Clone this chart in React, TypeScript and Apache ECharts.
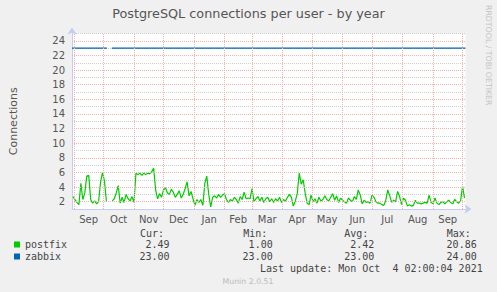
import React, { useEffect, useRef } from "react";
import * as echarts from "echarts";

// ---- data ----
const DAY_MS = 86400000;
const END_TIME = Date.UTC(2021, 9, 4, 2, 0, 4);
const SPAN_DAYS = 400;
const START_TIME = END_TIME - SPAN_DAYS * DAY_MS;

// postfix: one reading every STEP_DAYS days, first at FIRST_DAY
const FIRST_DAY = 1;
const STEP_DAYS = 2;
const postfix: (number | null)[] = [
  2.7, 2.3, 1.9, 1.6, 4.5, 2.3, 3.2, 5.5, 5.6, 2.3,
  1.8, 2.1, 1.7, 2.0, 4.6, 6.0, 4.8, 2.0, null, null,
  2.1, 2.4, 3.2, 4.2, 1.8, 2.6, 1.9, 3.0, 2.4, 2.1,
  2.7, 1.9, 5.9, 5.7, 5.9, 5.6, 5.9, 5.7, 5.9, 5.8,
  6.1, 6.6, 3.6, 2.4, 3.1, 2.6, 3.6, 3.9, 3.2, 3.0,
  3.7, 3.3, 2.6, 3.0, 3.5, 2.5, 3.0, 3.8, 4.7, 2.8,
  3.4, 2.4, 1.5, 2.3, 1.9, 2.3, 1.5, 4.5, 5.5, 3.0,
  1.3, 2.6, 2.8, 2.5, 3.0, 2.6, 2.9, 3.1, 2.3, 1.9,
  2.3, 2.1, 2.6, 2.3, 1.8, 2.7, 2.3, 3.3, 2.4, 2.5,
  2.4, 3.8, 2.0, 2.4, 2.7, 2.1, 2.6, 1.9, 2.4, 2.6,
  2.0, 2.4, 1.9, 2.4, 2.1, 2.6, 1.9, 2.3, 2.1, 2.6,
  3.0, 2.6, 1.4, 2.1, 3.1, 5.9, 4.4, 5.0, 3.2, 1.8,
  1.6, 2.9, 2.0, 2.4, 1.8, 2.6, 2.1, 2.3, 2.8, 2.3,
  2.1, 2.6, 3.1, 2.2, 2.8, 1.9, 2.5, 2.2, 2.0, 1.8,
  2.5, 2.2, 2.0, 2.7, 2.3, 3.6, 2.9, 1.7, 2.2, 1.9,
  2.0, 1.8, 2.9, 2.6, 2.0, 1.8, 1.8, 1.6, 1.5, 2.2,
  3.6, 2.8, 1.9, 2.2, 2.0, 3.4, 2.7, 1.6, 2.5, 2.2,
  1.4, 1.6, 1.4, 1.5, 2.2, 1.8, 1.8, 1.7, 1.8, 1.9,
  1.8, 2.9, 1.9, 1.7, 2.5, 1.8, 1.6, 1.9, 2.0, 1.7,
  2.0, 2.2, 1.9, 1.7, 2.3, 2.0, 1.8, 2.1, 4.1, 2.5,
];

// zabbix: constant with a gap (day offsets / values)
const zabbixDays = [0, 35.5, 36, 40.5, 400];
const zabbixValues: (number | null)[] = [23, 23, null, 23, 23];

const monthStarts = [
  "2020-09-01", "2020-10-01", "2020-11-01", "2020-12-01", "2021-01-01",
  "2021-02-01", "2021-03-01", "2021-04-01", "2021-05-01", "2021-06-01",
  "2021-07-01", "2021-08-01", "2021-09-01", "2021-10-01",
];
const monthLabels = ["Sep", "Oct", "Nov", "Dec", "Jan", "Feb", "Mar", "Apr", "May", "Jun", "Jul", "Aug", "Sep"];

const Y_MIN = 1;
const Y_MAX = 25;
const yMajorTicks = [2, 4, 6, 8, 10, 12, 14, 16, 18, 20, 22, 24];

const statHeaders = ["Cur:", "Min:", "Avg:", "Max:"];
const seriesNames = ["postfix", "zabbix"];
const postfixStats = ["2.49", "1.00", "2.42", "20.86"];
const zabbixStats = ["23.00", "23.00", "23.00", "24.00"];
const lastUpdate = "Last update: Mon Oct  4 02:00:04 2021";
const footer = "Munin 2.0.51";
const watermark = "RRDTOOL / TOBI OETIKER";
const title = "PostgreSQL connections per user - by year";
const yName = "Connections";

// ---- styles ----
const COLORS = ["#00CC00", "#0066B3"];
const AXIS_COLOR = "#C4CCF4";
const MAJOR = "#F4B0B0";
const MINOR = "#CFCFCF";
const TEXT = "#555555";
const LEG = "#444444";
const SANS = "DejaVu Sans";
const MONO = "DejaVu Sans Mono";

function dayOf(s: string) {
  return (Date.parse(s + "T00:00:00Z") - START_TIME) / DAY_MS;
}

export default function App() {
  const ref = useRef<HTMLDivElement>(null);
  useEffect(() => {
    if (!ref.current) return;
    const chart = echarts.init(ref.current, null, { renderer: "svg" });
    const starts = monthStarts.map(dayOf);
    const mids = monthLabels.map((_, i) => (starts[i] + starts[i + 1]) / 2);
    const postfixData = postfix.map((v, i) => [FIRST_DAY + i * STEP_DAYS, v]);
    const zabbixData = zabbixDays.map((d, i) => [d, zabbixValues[i]]);

    const headerX = [140, 243.3, 344.3, 446.7];
    const valueRight = [169.5, 272.7, 374.3, 476.7];
    const graphics: any[] = [];
    statHeaders.forEach((h, i) =>
      graphics.push({
        type: "text", x: headerX[i], y: 233.5,
        style: { text: h, fill: LEG, fontSize: 10, fontFamily: MONO, align: "left", verticalAlign: "middle" },
      })
    );
    [postfixStats, zabbixStats].forEach((row, r) =>
      row.forEach((v, i) =>
        graphics.push({
          type: "text", x: valueRight[i], y: 244.5 + r * 12,
          style: { text: v, fill: LEG, fontSize: 10, fontFamily: MONO, align: "right", verticalAlign: "middle" },
        })
      )
    );
    graphics.push({
      type: "text", x: 482.7, y: 268.5,
      style: { text: lastUpdate, fill: LEG, fontSize: 10, fontFamily: MONO, align: "right", verticalAlign: "middle" },
    });
    graphics.push({
      type: "text", x: 248, y: 281,
      style: { text: footer, fill: "#BBBBBB", fontSize: 7.8, fontFamily: SANS, align: "center", verticalAlign: "middle" },
    });
    graphics.push({
      type: "text", x: 488.5, y: 5, rotation: -Math.PI / 2,
      style: { text: watermark, fill: "#C4C4C4", fontSize: 7.8, fontFamily: SANS, align: "left", verticalAlign: "middle" },
    });

    const gridLineStyle = { color: MAJOR, type: [1, 1], width: 1 };

    chart.setOption({
      animation: false,
      backgroundColor: "#F0F0F0",
      title: {
        text: title, left: "center", top: 2,
        textStyle: { fontSize: 12.8, fontWeight: "normal", color: TEXT, fontFamily: SANS },
      },
      legend: {
        data: seriesNames, orient: "vertical", left: 14, top: 238.5, padding: 0,
        itemWidth: 6, itemHeight: 6, itemGap: 0,
        icon: "rect", selectedMode: false,
        textStyle: { fontSize: 10, fontFamily: MONO, color: LEG, lineHeight: 12 },
      },
      grid: {
        left: 65.5, top: 33.5, width: 400, height: 175.5,
        show: true, backgroundColor: "#FFFFFF", borderWidth: 0, z: -5,
      },
      xAxis: {
        type: "value", min: 0, max: SPAN_DAYS, z: 2,
        axisLine: {
          onZero: false, lineStyle: { color: AXIS_COLOR, width: 1 },
          symbol: ["none", "arrow"], symbolSize: [7, 7], symbolOffset: [0, 6],
        },
        axisTick: { show: false },
        splitLine: { show: false },
        axisLabel: {
          customValues: mids, margin: 5, color: TEXT, fontSize: 10, fontFamily: SANS,
          formatter: (v: number) => {
            let best = 0;
            mids.forEach((m, i) => { if (Math.abs(m - v) < Math.abs(mids[best] - v)) best = i; });
            return monthLabels[best];
          },
        },
      },
      yAxis: {
        type: "value", min: Y_MIN, max: Y_MAX, interval: 1, z: 1,
        name: yName, nameLocation: "middle", nameRotate: 90, nameGap: 53,
        nameTextStyle: { fontSize: 11, color: TEXT, fontFamily: SANS },
        axisLine: {
          show: true, lineStyle: { color: AXIS_COLOR, width: 1 },
          symbol: ["none", "arrow"], symbolSize: [7, 7], symbolOffset: [0, 6],
        },
        axisTick: { show: false },
        axisLabel: {
          margin: 7, color: TEXT, fontSize: 10, fontFamily: SANS,
          formatter: (v: number) => (v % 2 === 0 ? String(v) : ""),
        },
        splitLine: { show: true, lineStyle: { color: MINOR, type: [1, 1], width: 1 } },
      },
      graphic: graphics,
      series: [
        {
          name: "grid", type: "line", data: [], z: 1, silent: true,
          markLine: {
            silent: true, symbol: "none", label: { show: false },
            lineStyle: gridLineStyle,
            data: [
              ...starts.map((d) => ({ xAxis: d })),
              ...yMajorTicks.map((v) => ({ yAxis: v })),
            ],
          },
        },
        {
          name: "postfix", type: "line", data: postfixData, showSymbol: false, connectNulls: false, z: 3,
          lineStyle: { color: COLORS[0], width: 1.2 }, itemStyle: { color: COLORS[0] },
        },
        {
          name: "zabbix", type: "line", data: zabbixData, showSymbol: false, connectNulls: false, z: 3,
          lineStyle: { color: COLORS[1], width: 1.2 }, itemStyle: { color: COLORS[1] },
        },
      ],
    });
    return () => chart.dispose();
  }, []);
  return <div ref={ref} style={{ position: "fixed", left: 0, top: 0, width: 497, height: 292 }} />;
}
